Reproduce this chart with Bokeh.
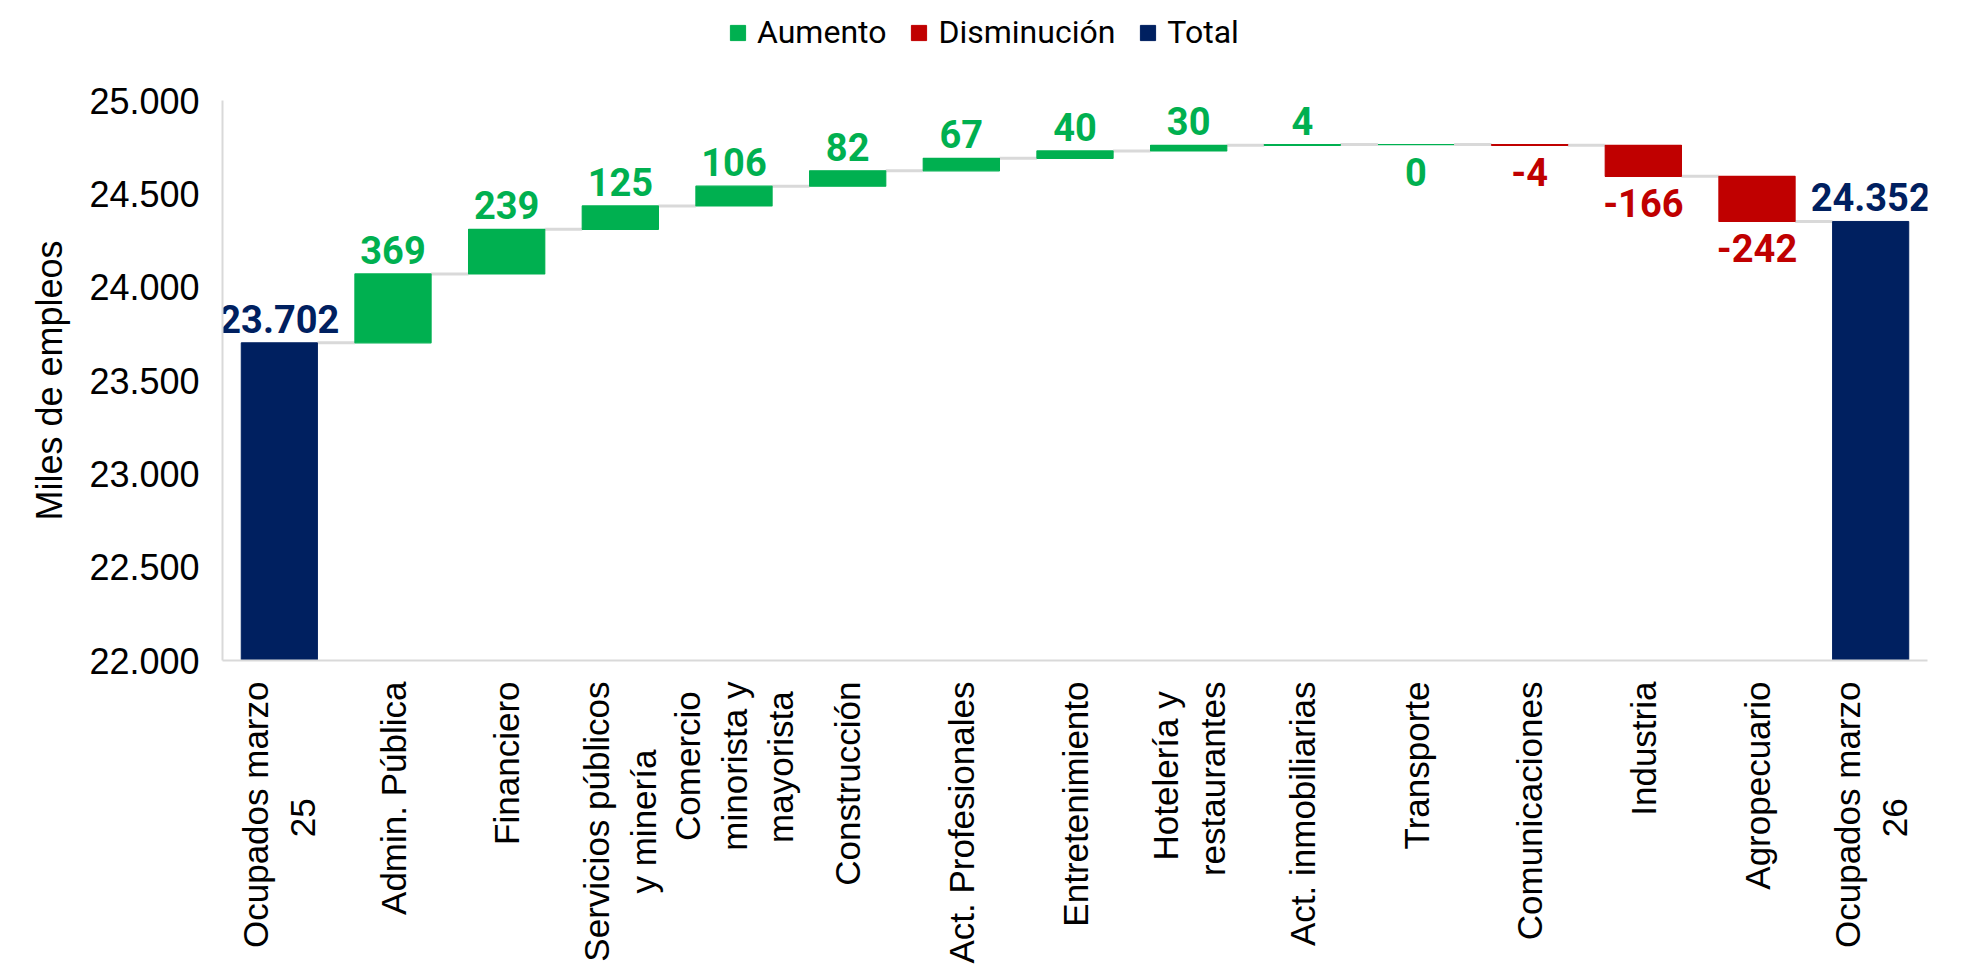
import math
from bokeh.plotting import figure
from bokeh.layouts import column
from bokeh.models import (ColumnDataSource, Range1d, FixedTicker, CustomJSTickFormatter,
                          Legend, LegendItem)
from bokeh.core.properties import value
from bokeh.embed import file_html
from bokeh.resources import INLINE

# ---------------- data ----------------
categories = ["Ocupados marzo\n25", "Admin. Pública", "Financiero",
              "Servicios públicos\ny minería", "Comercio\nminorista y\nmayorista",
              "Construcción", "Act. Profesionales", "Entretenimiento",
              "Hotelería y\nrestaurantes", "Act. inmobiliarias", "Transporte",
              "Comunicaciones", "Industria", "Agropecuario", "Ocupados marzo\n26"]
start_total = 23702
changes = [369, 239, 125, 106, 82, 67, 40, 30, 4, 0, -4, -166, -242]
end_total = 24352
y_ticks = [22000, 22500, 23000, 23500, 24000, 24500, 25000]
legend_labels = ["Aumento", "Disminución", "Total"]

GREEN = "#00B050"
RED = "#C00000"
NAVY = "#002060"
GRAY = "#D9D9D9"
BAR_W = 0.67
legend_colors = [GREEN, RED, NAVY]

def fmt(v):
    return f"{v:,}".replace(",", ".")

# approximate Liberation Sans advance widths (em) used to centre wrapped label lines
_W = {"i": .222, "l": .222, "j": .222, "í": .278, "f": .278, "t": .278, " ": .278, ".": .278,
      "r": .333, "c": .5, "s": .5, "y": .5, "z": .5, "v": .5, "k": .5, "x": .5,
      "m": .833, "w": .722, "C": .722, "H": .722, "O": .778, "S": .667, "A": .667, "P": .667}

def _width(s):
    return sum(_W.get(ch, .556) for ch in s)

def centre_lines(label):
    lines = label.split("\n")
    if len(lines) == 1:
        return label
    wmax = max(_width(l) for l in lines)
    out = []
    for l in lines:
        pad = int(round((wmax - _width(l)) / 2 / .278))
        out.append(l + "\u00a0" * pad)
    return "\n".join(out)

# ---------------- derived geometry from data ----------------
base = y_ticks[0]
n = len(categories)
inc = dict(x=[], bottom=[], top=[])
dec = dict(x=[], bottom=[], top=[])
tot = dict(x=[0, n - 1], bottom=[base, base], top=[start_total, end_total])

above = dict(x=[0, n - 1], y=[start_total, end_total],
             text=[fmt(start_total), fmt(end_total)], color=[NAVY, NAVY])
below = dict(x=[], y=[], text=[], color=[])

levels = [start_total]
level = start_total
for i, d in enumerate(changes, start=1):
    new = level + d
    lo, hi = min(level, new), max(level, new)
    tgt = inc if d >= 0 else dec
    tgt["x"].append(i)
    tgt["bottom"].append(lo)
    tgt["top"].append(hi)
    col = GREEN if d >= 0 else RED
    if d > 0:
        above["x"].append(i); above["y"].append(hi)
        above["text"].append(str(d)); above["color"].append(col)
    else:
        below["x"].append(i); below["y"].append(lo)
        below["text"].append(str(d)); below["color"].append(col)
    level = new
    levels.append(level)

conn = dict(x0=[i + BAR_W / 2 for i in range(n - 1)],
            x1=[i + 1 - BAR_W / 2 for i in range(n - 1)],
            y=levels[: n - 1])

src_inc = ColumnDataSource(inc)
src_dec = ColumnDataSource(dec)
src_tot = ColumnDataSource(tot)

# ---------------- legend strip ----------------
LEG_H = 64
pl = figure(width=1969, height=LEG_H, x_range=Range1d(0, 1), y_range=Range1d(0, 1),
            output_backend="svg", toolbar_location=None,
            min_border_left=222, min_border_right=42, min_border_top=0, min_border_bottom=0)
pl.axis.visible = False
pl.grid.visible = False
pl.outline_line_color = None
# hidden renderers that only supply the legend swatches
leg_renderers = []
for s, c in zip([src_inc, src_dec, src_tot], legend_colors):
    r = pl.vbar(x="x", bottom="bottom", top="top", width=BAR_W, source=s,
                fill_color=c, line_color=c)
    r.visible = False
    leg_renderers.append(r)
legend = Legend(items=[LegendItem(label=lab, renderers=[r])
                       for lab, r in zip(legend_labels, leg_renderers)],
                location=(506, 13), orientation="horizontal",
                glyph_width=19, glyph_height=19, label_height=19,
                label_standoff=10, spacing=23, padding=0, margin=0,
                border_line_color=None, background_fill_alpha=0,
                inactive_fill_alpha=0,
                label_text_font="Roboto", label_text_font_size="32px",
                label_text_color="black")
pl.add_layout(legend)

# ---------------- main figure ----------------
p = figure(width=1969, height=966 - LEG_H,
           x_range=Range1d(-0.5, n - 0.5), y_range=Range1d(y_ticks[0], y_ticks[-1]),
           output_backend="svg", toolbar_location=None,
           min_border_left=222, min_border_right=42,
           min_border_top=100 - LEG_H, min_border_bottom=304)
p.grid.visible = False
p.outline_line_color = None
p.background_fill_color = "white"

p.segment(x0="x0", y0="y", x1="x1", y1="y", source=ColumnDataSource(conn),
          line_color=GRAY, line_width=3)

p.vbar(x="x", bottom="bottom", top="top", width=BAR_W,
       source=src_inc, fill_color=GREEN, line_color=GREEN, line_width=1.2)
p.vbar(x="x", bottom="bottom", top="top", width=BAR_W,
       source=src_dec, fill_color=RED, line_color=RED, line_width=1.2)
p.vbar(x="x", bottom="bottom", top="top", width=BAR_W,
       source=src_tot, fill_color=NAVY, line_color=NAVY, line_width=1)

lab_font = value("Roboto")
p.text(x="x", y="y", text="text", text_color="color", source=ColumnDataSource(above),
       text_font=lab_font, text_font_style="bold", text_font_size="38px",
       text_align="center", text_baseline="alphabetic", y_offset=-24)
p.text(x="x", y="y", text="text", text_color="color", source=ColumnDataSource(below),
       text_font=lab_font, text_font_style="bold", text_font_size="38px",
       text_align="center", text_baseline="alphabetic", y_offset=27)

# ---------------- axes ----------------
for ax in p.axis:
    ax.axis_line_color = GRAY
    ax.axis_line_width = 2
    ax.major_tick_line_color = None
    ax.minor_tick_line_color = None
    ax.major_label_text_color = "black"

p.yaxis.ticker = FixedTicker(ticks=y_ticks)
p.yaxis.formatter = CustomJSTickFormatter(
    code="return Math.round(tick).toString().replace(/\\B(?=(\\d{3})+(?!\\d))/g, '.');")
p.yaxis.major_label_text_font = "Liberation Sans"
p.yaxis.major_label_text_font_size = "36px"
p.yaxis.major_label_standoff = 17
p.yaxis.axis_label = "Miles de empleos"
p.yaxis.axis_label_text_font = "Liberation Sans"
p.yaxis.axis_label_text_font_size = "36px"
p.yaxis.axis_label_text_font_style = "normal"
p.yaxis.axis_label_text_color = "black"
p.yaxis.axis_label_standoff = 16

p.xaxis.ticker = FixedTicker(ticks=list(range(n)))
p.xaxis.major_label_overrides = {i: centre_lines(c) for i, c in enumerate(categories)}
p.xaxis.major_label_orientation = math.pi / 2
p.xaxis.major_label_text_font = "Liberation Sans"
p.xaxis.major_label_text_font_size = "35px"
p.xaxis.major_label_standoff = 15

layout = column(pl, p, spacing=0)
open("out.html", "w").write(file_html(layout, INLINE))
